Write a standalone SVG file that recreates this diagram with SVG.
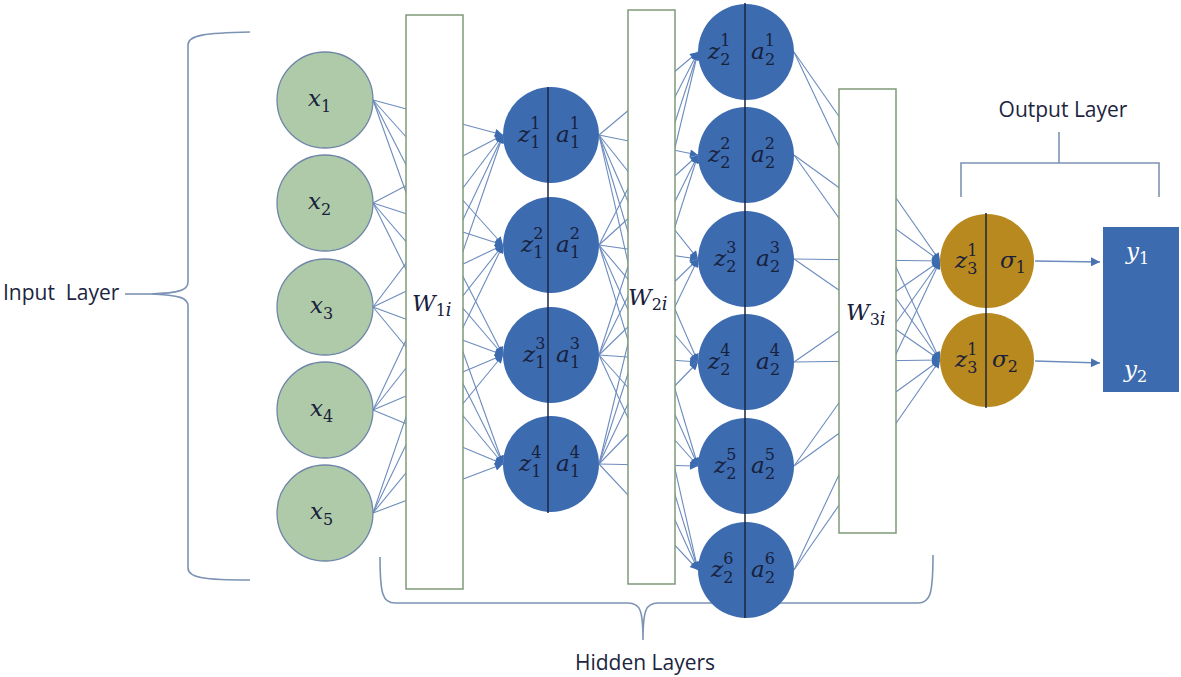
<svg xmlns="http://www.w3.org/2000/svg" width="1181" height="677" viewBox="0 0 1181 677">
<defs>
<style>
.c{stroke:#6c8cbd;stroke-width:1.1;fill:none;marker-end:url(#tip)}
.box{fill:#fff;stroke:#7f9a78;stroke-width:1.5}
.in{fill:#afcaa8;stroke:#6f86a8;stroke-width:1.3}
.hid{fill:#3c6bb0}
.out{fill:#b8891e}
.div{stroke:#1c2540;stroke-width:1.5}
.mi{font-family:"DejaVu Serif","Liberation Serif",serif;font-style:italic;font-size:23px;fill:#18203a}
.s{font-style:normal;font-size:16px}
.lbl{font-family:"Open Sans","Liberation Sans",sans-serif;font-size:21px;fill:#1c2540}
.br{stroke:#7d93b3;stroke-width:1.6;fill:none}
.wt{fill:#fff}
</style>
<marker id="tip" viewBox="0 0 10 10" refX="10" refY="5" markerWidth="9" markerHeight="8" markerUnits="userSpaceOnUse" orient="auto"><path d="M0,0 L10,5 L0,10 z" fill="#3c6bb0"/></marker>
<marker id="arr" viewBox="0 0 10 10" refX="10" refY="5" markerWidth="10" markerHeight="9" markerUnits="userSpaceOnUse" orient="auto"><path d="M0,0 L10,5 L0,10 z" fill="#4a72b0"/></marker>
</defs>
<rect width="1181" height="677" fill="#fff"/>

<g id="braces">
<path class="br" d="M250,32 C205,33 188,35 188,45 L188,282 C188,290 180,293 150,294 C180,295 188,298 188,306 L188,568 C188,578 205,580 250,580"/>
<line class="br" x1="125" y1="294" x2="150" y2="294"/>
<path class="br" d="M380,557 C380,595 383,603 395,603 L628,603 C640,603 643,610 643,640 C643,610 646,603 658,603 L918,603 C930,603 933,595 933,555"/>
<polyline class="br" points="961,197 961,163 1159,163 1159,197"/>
<line class="br" x1="1059" y1="132" x2="1059" y2="163"/>
</g>

<g id="connectors">
<line class="c" x1="373" y1="100" x2="503" y2="135"/><line class="c" x1="373" y1="100" x2="503" y2="245"/><line class="c" x1="373" y1="100" x2="503" y2="355"/><line class="c" x1="373" y1="100" x2="503" y2="464"/>
<line class="c" x1="373" y1="203" x2="503" y2="135"/><line class="c" x1="373" y1="203" x2="503" y2="245"/><line class="c" x1="373" y1="203" x2="503" y2="355"/><line class="c" x1="373" y1="203" x2="503" y2="464"/>
<line class="c" x1="373" y1="307" x2="503" y2="135"/><line class="c" x1="373" y1="307" x2="503" y2="245"/><line class="c" x1="373" y1="307" x2="503" y2="355"/><line class="c" x1="373" y1="307" x2="503" y2="464"/>
<line class="c" x1="373" y1="410" x2="503" y2="135"/><line class="c" x1="373" y1="410" x2="503" y2="245"/><line class="c" x1="373" y1="410" x2="503" y2="355"/><line class="c" x1="373" y1="410" x2="503" y2="464"/>
<line class="c" x1="373" y1="513" x2="503" y2="135"/><line class="c" x1="373" y1="513" x2="503" y2="245"/><line class="c" x1="373" y1="513" x2="503" y2="355"/><line class="c" x1="373" y1="513" x2="503" y2="464"/>

<line class="c" x1="599" y1="135" x2="698" y2="52"/><line class="c" x1="599" y1="135" x2="698" y2="155"/><line class="c" x1="599" y1="135" x2="698" y2="259"/><line class="c" x1="599" y1="135" x2="698" y2="362"/><line class="c" x1="599" y1="135" x2="698" y2="466"/><line class="c" x1="599" y1="135" x2="698" y2="570"/>
<line class="c" x1="599" y1="245" x2="698" y2="52"/><line class="c" x1="599" y1="245" x2="698" y2="155"/><line class="c" x1="599" y1="245" x2="698" y2="259"/><line class="c" x1="599" y1="245" x2="698" y2="362"/><line class="c" x1="599" y1="245" x2="698" y2="466"/><line class="c" x1="599" y1="245" x2="698" y2="570"/>
<line class="c" x1="599" y1="355" x2="698" y2="52"/><line class="c" x1="599" y1="355" x2="698" y2="155"/><line class="c" x1="599" y1="355" x2="698" y2="259"/><line class="c" x1="599" y1="355" x2="698" y2="362"/><line class="c" x1="599" y1="355" x2="698" y2="466"/><line class="c" x1="599" y1="355" x2="698" y2="570"/>
<line class="c" x1="599" y1="464" x2="698" y2="52"/><line class="c" x1="599" y1="464" x2="698" y2="155"/><line class="c" x1="599" y1="464" x2="698" y2="259"/><line class="c" x1="599" y1="464" x2="698" y2="362"/><line class="c" x1="599" y1="464" x2="698" y2="466"/><line class="c" x1="599" y1="464" x2="698" y2="570"/>

<line class="c" x1="794" y1="52" x2="940" y2="261"/><line class="c" x1="794" y1="52" x2="940" y2="360"/>
<line class="c" x1="794" y1="155" x2="940" y2="261"/><line class="c" x1="794" y1="155" x2="940" y2="360"/>
<line class="c" x1="794" y1="259" x2="940" y2="261"/><line class="c" x1="794" y1="259" x2="940" y2="360"/>
<line class="c" x1="794" y1="362" x2="940" y2="261"/><line class="c" x1="794" y1="362" x2="940" y2="360"/>
<line class="c" x1="794" y1="466" x2="940" y2="261"/><line class="c" x1="794" y1="466" x2="940" y2="360"/>
<line class="c" x1="794" y1="570" x2="940" y2="261"/><line class="c" x1="794" y1="570" x2="940" y2="360"/>

<line x1="1035" y1="261" x2="1100" y2="262" stroke="#6c8cbd" stroke-width="1.5" marker-end="url(#arr)"/>
<line x1="1035" y1="361" x2="1100" y2="363" stroke="#6c8cbd" stroke-width="1.5" marker-end="url(#arr)"/>
</g>

<g id="W1"><rect class="box" x="406" y="15" width="57" height="574"/><text class="mi" x="412" y="311" font-size="27">W<tspan class="s" font-size="18" dy="5">1</tspan><tspan font-size="18">i</tspan></text></g>
<g id="W2"><rect class="box" x="628" y="10" width="47" height="574"/><text class="mi" x="628" y="305" font-size="27">W<tspan class="s" font-size="18" dy="5">2</tspan><tspan font-size="18">i</tspan></text></g>
<g id="W3"><rect class="box" x="839" y="89" width="57" height="444"/><text class="mi" x="846" y="320" font-size="27">W<tspan class="s" font-size="18" dy="5">3</tspan><tspan font-size="18">i</tspan></text></g>

<g id="x1"><circle class="in" cx="325" cy="100" r="48"/><text class="mi" x="308" y="106" font-size="25">x<tspan class="s" font-size="18" dy="6">1</tspan></text></g>
<g id="x2"><circle class="in" cx="325" cy="203" r="48"/><text class="mi" x="308" y="209" font-size="25">x<tspan class="s" font-size="18" dy="6">2</tspan></text></g>
<g id="x3"><circle class="in" cx="325" cy="307" r="48"/><text class="mi" x="310" y="313" font-size="25">x<tspan class="s" font-size="18" dy="6">3</tspan></text></g>
<g id="x4"><circle class="in" cx="325" cy="410" r="48"/><text class="mi" x="310" y="416" font-size="25">x<tspan class="s" font-size="18" dy="6">4</tspan></text></g>
<g id="x5"><circle class="in" cx="325" cy="513" r="48"/><text class="mi" x="310" y="519" font-size="25">x<tspan class="s" font-size="18" dy="6">5</tspan></text></g>

<g id="h1">
<circle class="hid" cx="551" cy="135" r="48"/><circle class="hid" cx="551" cy="245" r="48"/><circle class="hid" cx="551" cy="355" r="48"/><circle class="hid" cx="551" cy="464" r="48"/>
<line class="div" x1="548" y1="87" x2="548" y2="513"/>
<text class="mi" x="518" y="142">z<tspan class="s" dy="-13">1</tspan><tspan class="s" dx="-10" dy="19">1</tspan></text><text class="mi" x="556" y="142">a<tspan class="s" dy="-13">1</tspan><tspan class="s" dx="-10" dy="19">1</tspan></text>
<text class="mi" x="521" y="252">z<tspan class="s" dy="-13">2</tspan><tspan class="s" dx="-10" dy="19">1</tspan></text><text class="mi" x="556" y="252">a<tspan class="s" dy="-13">2</tspan><tspan class="s" dx="-10" dy="19">1</tspan></text>
<text class="mi" x="523" y="362">z<tspan class="s" dy="-13">3</tspan><tspan class="s" dx="-10" dy="19">1</tspan></text><text class="mi" x="556" y="362">a<tspan class="s" dy="-13">3</tspan><tspan class="s" dx="-10" dy="19">1</tspan></text>
<text class="mi" x="519" y="471">z<tspan class="s" dy="-13">4</tspan><tspan class="s" dx="-10" dy="19">1</tspan></text><text class="mi" x="556" y="471">a<tspan class="s" dy="-13">4</tspan><tspan class="s" dx="-10" dy="19">1</tspan></text>
</g>

<g id="h2">
<circle class="hid" cx="746" cy="52" r="48"/><circle class="hid" cx="746" cy="155" r="48"/><circle class="hid" cx="746" cy="259" r="48"/><circle class="hid" cx="746" cy="362" r="48"/><circle class="hid" cx="746" cy="466" r="48"/><circle class="hid" cx="746" cy="570" r="48"/>
<line class="div" x1="745" y1="3" x2="745" y2="618"/>
<text class="mi" x="708" y="59">z<tspan class="s" dy="-13">1</tspan><tspan class="s" dx="-10" dy="19">2</tspan></text><text class="mi" x="751" y="59">a<tspan class="s" dy="-13">1</tspan><tspan class="s" dx="-10" dy="19">2</tspan></text>
<text class="mi" x="708" y="162">z<tspan class="s" dy="-13">2</tspan><tspan class="s" dx="-10" dy="19">2</tspan></text><text class="mi" x="751" y="162">a<tspan class="s" dy="-13">2</tspan><tspan class="s" dx="-10" dy="19">2</tspan></text>
<text class="mi" x="714" y="266">z<tspan class="s" dy="-13">3</tspan><tspan class="s" dx="-10" dy="19">2</tspan></text><text class="mi" x="756" y="266">a<tspan class="s" dy="-13">3</tspan><tspan class="s" dx="-10" dy="19">2</tspan></text>
<text class="mi" x="708" y="369">z<tspan class="s" dy="-13">4</tspan><tspan class="s" dx="-10" dy="19">2</tspan></text><text class="mi" x="756" y="369">a<tspan class="s" dy="-13">4</tspan><tspan class="s" dx="-10" dy="19">2</tspan></text>
<text class="mi" x="714" y="473">z<tspan class="s" dy="-13">5</tspan><tspan class="s" dx="-10" dy="19">2</tspan></text><text class="mi" x="751" y="473">a<tspan class="s" dy="-13">5</tspan><tspan class="s" dx="-10" dy="19">2</tspan></text>
<text class="mi" x="711" y="577">z<tspan class="s" dy="-13">6</tspan><tspan class="s" dx="-10" dy="19">2</tspan></text><text class="mi" x="751" y="577">a<tspan class="s" dy="-13">6</tspan><tspan class="s" dx="-10" dy="19">2</tspan></text>
</g>

<g id="out">
<circle class="out" cx="987" cy="261" r="47"/><circle class="out" cx="987" cy="360" r="47"/>
<line class="div" x1="986" y1="213" x2="986" y2="408"/>
<text class="mi" x="955" y="268">z<tspan class="s" dy="-12">1</tspan><tspan class="s" dx="-10" dy="18">3</tspan></text><text class="mi" x="1000" y="268">σ<tspan class="s" font-size="18" dy="5">1</tspan></text>
<text class="mi" x="955" y="367">z<tspan class="s" dy="-12">1</tspan><tspan class="s" dx="-10" dy="18">3</tspan></text><text class="mi" x="992" y="367">σ<tspan class="s" font-size="18" dy="5">2</tspan></text>
</g>

<g id="y">
<rect x="1103" y="227" width="76" height="165" fill="#3c6bb0"/>
<text class="mi wt" x="1126" y="259" font-size="24">y<tspan class="s" font-size="17" dy="5">1</tspan></text>
<text class="mi wt" x="1124" y="377" font-size="24">y<tspan class="s" font-size="17" dy="5">2</tspan></text>
</g>

<g id="labels">
<text class="lbl" x="3" y="300" style="white-space:pre">Input  Layer</text>
<text class="lbl" x="1063" y="117" text-anchor="middle">Output Layer</text>
<text class="lbl" x="645" y="670" text-anchor="middle">Hidden Layers</text>
</g>
</svg>
